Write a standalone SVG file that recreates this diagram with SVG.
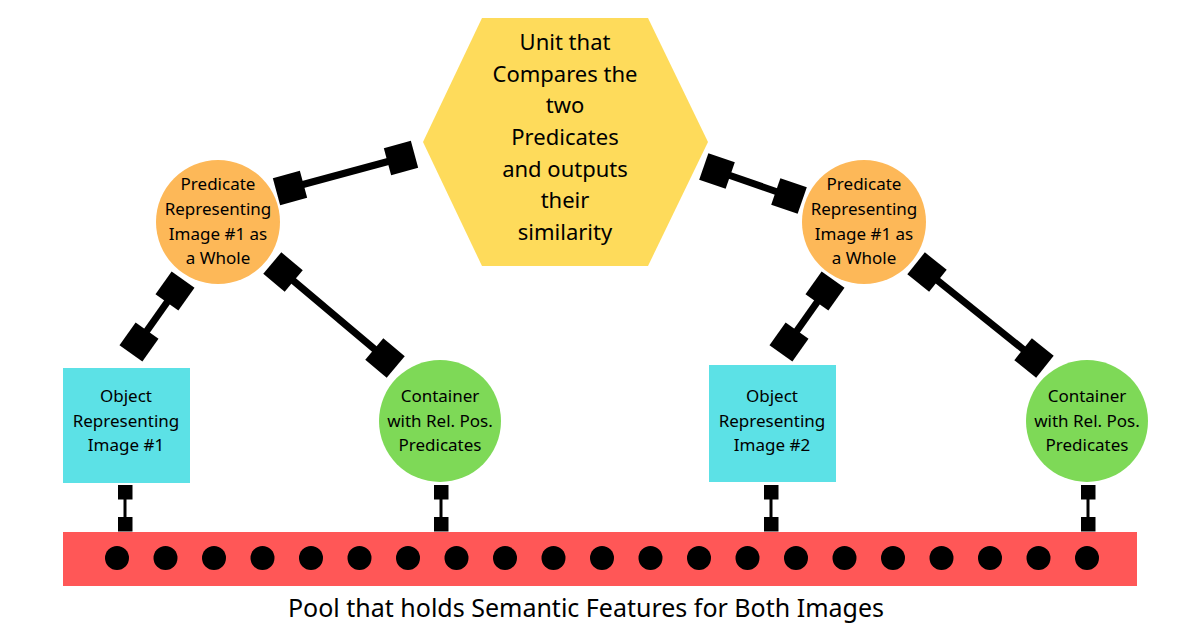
<svg xmlns="http://www.w3.org/2000/svg" width="1200" height="628" viewBox="0 0 1200 628">
<style>
text{font-family:"Noto Sans","Liberation Sans",sans-serif;fill:#000;text-anchor:middle}
.n{font-size:17px}
.h{font-size:22px}
.c{stroke:#000;stroke-width:7;fill:none}
.s{stroke:#000;stroke-width:3;fill:none}
</style>
<defs>
<marker id="sq" markerUnits="userSpaceOnUse" markerWidth="30" markerHeight="30" refX="15" refY="15" orient="auto" viewBox="0 0 30 30"><rect x="1" y="1" width="28" height="28" fill="#000"/></marker>
<marker id="ss" markerUnits="userSpaceOnUse" markerWidth="15" markerHeight="15" refX="7.5" refY="7.5" orient="auto" viewBox="0 0 15 15"><rect x="0" y="0" width="15" height="15" fill="#000"/></marker>
</defs>
<rect width="1200" height="628" fill="#fff"/>
<g id="connectors">
<line class="c" x1="290" y1="188" x2="401" y2="158" marker-start="url(#sq)" marker-end="url(#sq)"/>
<line class="c" x1="175" y1="291" x2="139" y2="342" marker-start="url(#sq)" marker-end="url(#sq)"/>
<line class="c" x1="283" y1="272" x2="385" y2="358" marker-start="url(#sq)" marker-end="url(#sq)"/>
<line class="c" x1="717" y1="171" x2="789" y2="196" marker-start="url(#sq)" marker-end="url(#sq)"/>
<line class="c" x1="825" y1="291" x2="789" y2="342" marker-start="url(#sq)" marker-end="url(#sq)"/>
<line class="c" x1="927" y1="272" x2="1034" y2="358" marker-start="url(#sq)" marker-end="url(#sq)"/>
<line class="s" x1="125" y1="492" x2="125" y2="524" marker-start="url(#ss)" marker-end="url(#ss)"/>
<line class="s" x1="441" y1="492" x2="441" y2="524" marker-start="url(#ss)" marker-end="url(#ss)"/>
<line class="s" x1="771" y1="492" x2="771" y2="524" marker-start="url(#ss)" marker-end="url(#ss)"/>
<line class="s" x1="1088" y1="492" x2="1088" y2="524" marker-start="url(#ss)" marker-end="url(#ss)"/>
</g>
<g id="hex">
<polygon points="423,142 482,18 648,18 708,142 648,266 482,266" fill="#fedb5b"/>
<text class="h"><tspan x="565" y="50">Unit that</tspan><tspan x="565" y="82">Compares the</tspan><tspan x="565" y="113">two</tspan><tspan x="565" y="145">Predicates</tspan><tspan x="565" y="177">and outputs</tspan><tspan x="565" y="208">their</tspan><tspan x="565" y="240">similarity</tspan></text>
</g>
<g id="pred1">
<circle cx="218" cy="222" r="62" fill="#fdb858"/>
<text class="n"><tspan x="218" y="190">Predicate</tspan><tspan x="218" y="215">Representing</tspan><tspan x="218" y="240">Image #1 as</tspan><tspan x="218" y="264">a Whole</tspan></text>
</g>
<g id="pred2">
<circle cx="864" cy="222" r="62" fill="#fdb858"/>
<text class="n"><tspan x="864" y="190">Predicate</tspan><tspan x="864" y="215">Representing</tspan><tspan x="864" y="240">Image #1 as</tspan><tspan x="864" y="264">a Whole</tspan></text>
</g>
<g id="obj1">
<rect x="63" y="368" width="127" height="115" fill="#5ce1e6"/>
<text class="n"><tspan x="126" y="402">Object</tspan><tspan x="126" y="427">Representing</tspan><tspan x="126" y="451">Image #1</tspan></text>
</g>
<g id="obj2">
<rect x="709" y="365" width="127" height="117" fill="#5ce1e6"/>
<text class="n"><tspan x="772" y="402">Object</tspan><tspan x="772" y="427">Representing</tspan><tspan x="772" y="451">Image #2</tspan></text>
</g>
<g id="cont1">
<circle cx="440" cy="421" r="61" fill="#7ed957"/>
<text class="n"><tspan x="440" y="402">Container</tspan><tspan x="440" y="427">with Rel. Pos.</tspan><tspan x="440" y="451">Predicates</tspan></text>
</g>
<g id="cont2">
<circle cx="1087" cy="421" r="61" fill="#7ed957"/>
<text class="n"><tspan x="1087" y="402">Container</tspan><tspan x="1087" y="427">with Rel. Pos.</tspan><tspan x="1087" y="451">Predicates</tspan></text>
</g>
<g id="pool">
<rect x="63" y="532" width="1074" height="54" fill="#ff5757"/>
<g fill="#000">
<circle cx="117" cy="558" r="12"/><circle cx="165.5" cy="558" r="12"/><circle cx="214" cy="558" r="12"/><circle cx="262.5" cy="558" r="12"/><circle cx="311" cy="558" r="12"/><circle cx="359.5" cy="558" r="12"/><circle cx="408" cy="558" r="12"/><circle cx="456.5" cy="558" r="12"/><circle cx="505" cy="558" r="12"/><circle cx="553.5" cy="558" r="12"/><circle cx="602" cy="558" r="12"/><circle cx="650.5" cy="558" r="12"/><circle cx="699" cy="558" r="12"/><circle cx="747.5" cy="558" r="12"/><circle cx="796" cy="558" r="12"/><circle cx="844.5" cy="558" r="12"/><circle cx="893" cy="558" r="12"/><circle cx="941.5" cy="558" r="12"/><circle cx="990" cy="558" r="12"/><circle cx="1038.5" cy="558" r="12"/><circle cx="1087" cy="558" r="12"/>
</g>
<text x="586" y="617" style="font-size:25px">Pool that holds Semantic Features for Both Images</text>
</g>
</svg>
